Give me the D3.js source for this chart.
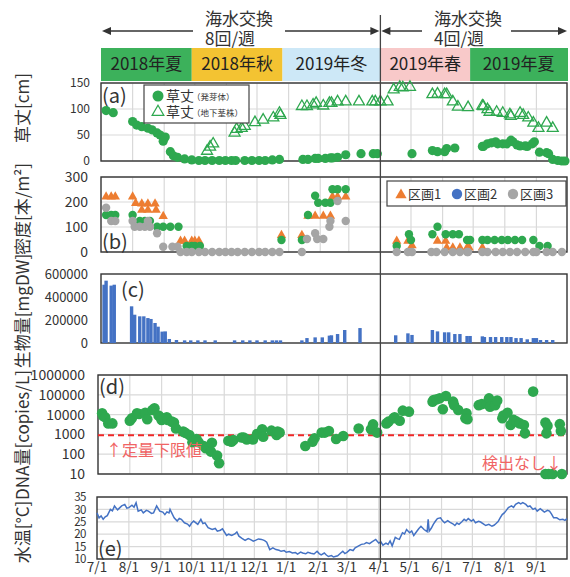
<!DOCTYPE html>
<html><head><meta charset="utf-8">
<script src="https://cdn.jsdelivr.net/npm/d3@7"></script>
<style>
body{margin:0;background:#fff}
text{font-family:"Noto Sans CJK JP","Noto Sans",sans-serif;fill:#333}
</style>
</head><body>
<svg id="c" width="570" height="577"></svg>
<script>
// ---------------- DATA ----------------
const startDate = "2018-07-01", endDate = "2019-10-01";
const seasonLabels = ["2018年夏","2018年秋","2019年冬","2019年春","2019年夏"];
const seasonBoundDays = [0, 89, 178, 274, 362, 457];
const exchangeLabels = [["海水交換","8回/週"],["海水交換","4回/週"]];
const exchangeSplitDay = 274;
const xTickLabels = ["7/1","8/1","9/1","10/1","11/1","12/1","1/1","2/1","3/1","4/1","5/1","6/1","7/1","8/1","9/1"];
const yTitles = ["草丈[cm]","密度[本/m²]","生物量[mgDW]","DNA量[copies/L]","水温[°C]"];

// (a) 草丈 [day offset, cm]
const shootHeight = [[5,97],[12,93],[31,76],[35,69],[40,66],[46,63],[50,60],[55,54],[58,50],[61,38],[63,46],[68,18],[71,10],[75,7],[82,4],[89,2],[96,1],[102,1],[109,1],[116,1],[122,1],[128,1],[132,1],[141,1],[148,1],[155,1],[161,1],[168,2],[175,3],
 [198,3],[203,3],[210,5],[213,5],[220,5],[225,6],[227,6],[232,7],[240,12],[255,14],[267,14],[271,14],[305,14],[325,20],[330,18],[337,18],[339,24],[347,25],[374,28],[375,28],[379,33],[383,35],[387,37],[389,33],[394,33],[398,33],[402,40],[404,37],[408,31],[411,29],[416,29],[418,28],[423,33],[425,37],[430,17],[437,16],[439,14],[443,3],[448,1],[452,0],[455,0]];
const rhizomeHeight = [[104,21],[107,29],[110,35],[131,56],[133,63],[138,65],[141,69],[151,76],[159,81],[169,85],[175,94],[176,90],
 [197,107],[202,107],[208,110],[211,113],[218,108],[224,113],[226,113],[232,116],[240,116],[253,116],[266,116],[269,116],[274,116],[281,116],[287,139],[293,144],[296,143],[303,144],[325,130],[330,131],[337,130],[339,130],[345,116],[350,106],[360,105],[374,108],[375,107],[379,101],[381,96],[388,96],[394,94],[401,91],[402,88],[411,94],[414,90],[419,85],[424,75],[429,65],[437,75],[443,65]];

// (b) 密度 [day, 本/m2]
const densityLegend = ["区画1","区画2","区画3"];
const density1 = [[5,225],[10,225],[14,225],[31,225],[34,199],[40,197],[46,197],[53,197],[40,172],[46,172],[54,172],[61,147],[78,48],[82,48],[89,48],[92,48],[96,48],[177,71],[197,71],[203,148],[210,148],[218,148],[225,148],[227,225],[232,225],[240,225],[290,48],[301,48],[305,30],[330,48],[338,48],[339,21],[345,21],[352,21],[359,21],[361,21],[374,21]];
const density2 = [[5,148],[10,148],[14,148],[31,148],[38,124],[43,124],[48,124],[55,101],[61,101],[68,101],[76,101],[84,24],[89,24],[92,24],[97,24],[177,48],[197,48],[203,148],[210,225],[213,197],[220,197],[225,197],[227,251],[232,251],[240,251],[290,24],[302,71],[304,48],[325,71],[330,101],[338,71],[345,71],[351,71],[359,48],[362,48],[374,48],[379,48],[386,48],[393,48],[399,48],[406,48],[413,48],[424,48],[430,24],[438,24]];
const density3 = [[5,177],[10,124],[14,124],[31,124],[33,101],[38,101],[43,101],[48,101],[46,124],[55,75],[61,21],[70,21],[75,21],[78,0],[84,0],[89,0],[96,0],[102,0],[109,0],[116,0],[122,0],[128,0],[134,0],[141,0],[148,0],[155,0],[161,0],[168,0],[175,0],[197,0],[202,52],[210,75],[212,52],[218,52],[224,101],[225,124],[232,204],[240,124],
 [290,0],[301,0],[305,0],[324,0],[329,0],[337,0],[345,0],[352,0],[359,0],[360,0],[374,0],[379,0],[387,0],[394,0],[401,0],[408,0],[416,0],[424,0],[427,0],[437,0],[443,0],[452,0]];

// (c) 生物量 [day, mgDW]
const biomass = [[3,507000],[5,542000],[10,499000],[13,507000],[30,319000],[33,246000],[38,232000],[42,232000],[46,217000],[49,209000],[53,174000],[56,142000],[60,99000],[63,101000],[67,35000],[74,26000],[82,23000],[88,23000],[95,23000],[102,23000],[112,23000],[131,23000],[139,23000],[146,23000],[153,23000],[161,23000],[168,23000],[172,23000],[176,23000],[197,23000],[202,43000],[210,49000],[217,49000],[224,64000],[226,67000],[232,78000],[239,113000],[254,130000],
 [289,67000],[301,84000],[305,70000],[325,113000],[330,101000],[337,93000],[341,93000],[347,78000],[352,78000],[359,61000],[362,61000],[374,58000],[376,52000],[382,52000],[387,52000],[393,52000],[398,52000],[402,52000],[407,43000],[412,43000],[418,32000],[424,43000],[427,43000],[431,26000],[437,26000],[443,26000]];

// (d) DNA量 [day, copies/L]  (10 = 検出なし)
const dnaTicks = [10,100,1000,10000,100000,1000000];
const dnaLimit = 900;
const dna = [[4,11700],[5,8500],[7,7300],[10,3600],[14,3600],[31,4900],[33,6500],[38,11700],[40,10700],[46,12500],[48,5800],[53,17000],[55,21000],[59,9000],[61,7300],[62,5400],[67,7300],[68,5400],[72,4400],[74,4000],[76,2000],[83,1400],[85,1200],[89,930],[92,400],[96,590],[98,400],[103,260],[105,200],[110,135],[111,380],[116,86],[118,35],[127,480],[130,430],[132,520],[140,700],[142,700],[145,560],[151,560],[155,1050],[160,1800],[161,760],[169,1550],[173,1230],[174,930],[175,1400],[177,1230],
 [202,260],[209,430],[211,630],[218,1230],[221,1230],[225,1480],[232,590],[239,830],[254,2000],[266,1800],[268,3200],[272,1230],[281,3600],[283,4400],[288,6500],[289,7300],[294,4900],[297,15800],[303,14100],[326,45000],[327,55000],[330,59000],[333,66000],[339,87000],[336,18600],[346,45000],[347,30000],[351,17000],[359,11700],[358,6500],[360,5800],[371,30000],[374,34000],[379,35000],[381,66000],[382,25000],[387,30000],[389,51000],[394,6500],[395,9000],[399,12500],[402,3000],[405,5400],[408,4400],[411,3600],[415,3000],[416,1130],[424,145000],[436,4000],[438,2700],[437,1130],[450,3300],[451,1500],
 [436,10],[439,10],[443,10],[452,10]];

// (e) 水温 [day, °C]
const waterTemp = [[0,28.6],[2,26.6],[4,27.4],[6,26],[8,27],[10,27.5],[13,30],[15,29.4],[17,31.4],[20,29.8],[22,30.6],[24,31.4],[27,32],[29,30.5],[31,30.7],[34,31.7],[36,30.9],[38,32.7],[40,29.3],[43,29.8],[45,28.6],[48,29.6],[50,29.3],[53,28.4],[55,28.6],[58,31.4],[61,29.3],[64,28.9],[66,27.9],[68,29],[70,28.6],[71,30],[75,26.6],[78,25.3],[80,26.4],[82,26],[85,24.6],[88,24.1],[90,23.2],[92,24.5],[94,25.3],[98,24],[101,26],[103,24.3],[105,24.6],[108,22.6],[112,21.9],[115,22.3],[117,21.2],[120,21.6],[122,22.2],[126,19.5],[128,20],[131,19.5],[134,20.1],[136,20.9],[138,19.2],[141,18.3],[144,17.5],[147,18.2],[149,17.9],[152,17.2],[154,17.5],[157,18.1],[160,17.9],[163,17.4],[165,16.8],[168,13.8],[171,14.5],[174,13.8],[177,13.5],[179,13.1],[182,13.4],[184,12.7],[187,13],[190,12.4],[193,12.6],[195,12],[198,12.8],[200,12.4],[203,12.1],[205,12.7],[208,12.3],[211,12],[214,13.1],[216,12.2],[218,11.7],[221,12.4],[223,11.6],[225,11],[228,11.4],[230,10.8],[234,11.3],[237,12.4],[239,13.1],[241,12.2],[243,12.7],[246,13.8],[249,13.4],[251,14.5],[254,15.2],[257,15.9],[260,16.1],[262,16.6],[265,16.2],[267,16.8],[271,17.9],[274,16.4],[276,16.9],[278,15.6],[281,16.4],[283,15.9],[285,17.3],[287,15.3],[290,18.7],[292,18.2],[294,17.9],[297,20.6],[299,20.1],[301,21.9],[304,20.6],[306,21.3],[308,19.5],[311,21.2],[313,22.3],[315,23.2],[318,21.9],[321,21],[322,26],[323,21.2],[325,22.4],[327,24],[329,25.2],[331,26.3],[334,26.6],[336,25.4],[338,24.6],[341,25.5],[343,24.9],[346,24.2],[348,23.5],[350,24.5],[352,24],[355,25.1],[357,26],[359,25.4],[361,26.3],[364,25.3],[366,25.9],[368,24.6],[371,25.2],[373,24.9],[376,24.1],[378,23.5],[381,24],[384,23.2],[386,23.6],[388,24.3],[390,25.1],[392,26.6],[394,27.9],[396,28.6],[398,29.6],[400,30.7],[403,31.4],[405,30.8],[407,32],[410,32.7],[412,32.2],[414,32.7],[417,32],[419,31.1],[421,31.4],[424,30],[426,30.5],[428,29.3],[431,30.3],[433,29.6],[435,28.9],[438,29.6],[440,29.3],[442,28.1],[444,26.6],[447,26.6],[450,25.8],[453,26],[455,25.6],[457,26.3]];

const yTicksA = [0,50,100,150], yTicksB = [0,100,200,300], yTicksC = [0,200000,400000,600000], yTicksE = [10,15,20,25,30,35];

// ---------------- STYLE / LAYOUT ----------------
const C = {green:"#2ea84f", orange:"#ed7d31", blue:"#4472c4", gray:"#a5a5a5", grid:"#d9d9d9", axis:"#333",
  seasons:["#3cb15b","#f3c332","#cde8f7","#f8c9c9","#3cb15b"]};
const RIGHT = 567;
const svg = d3.select("#c");
const t0 = d3.timeParse("%Y-%m-%d")(startDate), t1 = d3.timeParse("%Y-%m-%d")(endDate);
const D = d => d3.timeDay.offset(t0, d);
const months = d3.timeMonth.range(t0, t1);
const xScale = left => d3.scaleTime().domain([t0, t1]).range([left, RIGHT]);

function panel(o){
  const x = xScale(o.left);
  const g = svg.append("g");
  if (o.vgrid) g.selectAll(null).data(months.slice(1)).join("line")
      .attr("x1", d=>x(d)).attr("x2", d=>x(d)).attr("y1", o.top).attr("y2", o.bottom)
      .attr("stroke", C.grid).attr("stroke-width", 1.2);
  if (o.hgrid) g.selectAll(null).data(o.ticks).join("line")
      .attr("x1", o.left).attr("x2", RIGHT).attr("y1", d=>o.y(d)).attr("y2", d=>o.y(d))
      .attr("stroke", C.grid).attr("stroke-width", 1.2);
  g.selectAll(null).data(o.ticks).join("text")
      .attr("x", o.labelRight).attr("y", d=>o.y(d)).attr("dy", "0.36em")
      .attr("text-anchor","end").style("font-size", o.fs+"px")
      .style("letter-spacing", o.ls||0)
      .text(d=>d);
  g.append("rect").attr("x", o.left).attr("y", o.top).attr("width", RIGHT-o.left).attr("height", o.bottom-o.top)
      .attr("fill","none").attr("stroke", C.axis).attr("stroke-width", 1.4);
  g.append("text").attr("x", o.tagX).attr("y", o.tagY).style("font-size","20px").text(o.tag);
  return {x, g};
}

// ---- Top annotations ----
const xa = xScale(101);
seasonLabels.forEach((s,i)=>{
  const x0 = xa(D(seasonBoundDays[i])), x1 = xa(D(seasonBoundDays[i+1]));
  svg.append("rect").attr("x", x0).attr("y", 48).attr("width", x1-x0+ (i==4?1:0)).attr("height", 33).attr("fill", C.seasons[i]);
  svg.append("text").attr("x", (x0+x1)/2).attr("y", 70).attr("text-anchor","middle").style("font-size","17px").style("fill","#222").text(s);
});
function arrowHead(x, y, dir){
  svg.append("path").attr("d", `M${x},${y} L${x-dir*9},${y-4} L${x-dir*9},${y+4} Z`).attr("fill","#333");
}
const xSplit = xa(D(exchangeSplitDay));
const ay = 31;
[[xa(D(1)), 193, 285, xSplit-1, 205],[xSplit+1, 422, 511, RIGHT, 434]].forEach(([a,b,c,d,tx],i)=>{
  svg.append("line").attr("x1",a+6).attr("x2",b).attr("y1",ay).attr("y2",ay).attr("stroke","#333").attr("stroke-width",1.4);
  svg.append("line").attr("x1",c).attr("x2",d-6).attr("y1",ay).attr("y2",ay).attr("stroke","#333").attr("stroke-width",1.4);
  arrowHead(a, ay, -1); arrowHead(d, ay, 1);
  svg.append("text").attr("x",tx).attr("y",25).style("font-size","17px").text(exchangeLabels[i][0]);
  svg.append("text").attr("x",tx).attr("y",45).style("font-size","17px").text(exchangeLabels[i][1]);
});

// ---- (a) ----
const yA = d3.scaleLinear().domain([0,150]).range([161,83]);
const pA = panel({left:101, top:83, bottom:161, y:yA, ticks:yTicksA, vgrid:true, hgrid:true, labelRight:90, fs:12, tag:"(a)", tagX:102, tagY:103});
pA.g.selectAll(null).data(rhizomeHeight).join("path")
  .attr("d", d3.symbol(d3.symbolTriangle, 52)).attr("transform", d=>`translate(${pA.x(D(d[0]))},${yA(d[1])+1})`)
  .attr("fill","none").attr("stroke", C.green).attr("stroke-width",1.3);
pA.g.selectAll(null).data(shootHeight).join("circle")
  .attr("cx", d=>pA.x(D(d[0]))).attr("cy", d=>yA(d[1])).attr("r",4.6).attr("fill", C.green);
const lg = svg.append("g");
lg.append("rect").attr("x",144).attr("y",85).attr("width",105).attr("height",38).attr("fill","#fff").attr("stroke","#444").attr("stroke-width",1.2);
lg.append("circle").attr("cx",158).attr("cy",96).attr("r",5.5).attr("fill",C.green);
lg.append("path").attr("d", d3.symbol(d3.symbolTriangle, 60)).attr("transform","translate(158,112)").attr("fill","none").attr("stroke",C.green).attr("stroke-width",1.2);
lg.append("text").attr("x",166).attr("y",101).style("font-size","14px").text("草丈");
lg.append("text").attr("x",192).attr("y",100).style("font-size","8.5px").text("（発芽体）");
lg.append("text").attr("x",166).attr("y",117).style("font-size","14px").text("草丈");
lg.append("text").attr("x",192).attr("y",116).style("font-size","8.5px").text("（地下茎株）");

// ---- (b) ----
const yB = d3.scaleLinear().domain([0,300]).range([252,177]);
const pB = panel({left:101, top:177, bottom:252, y:yB, ticks:yTicksB, vgrid:true, hgrid:true, labelRight:88, fs:14, tag:"(b)", tagX:102, tagY:249});
pB.g.selectAll(null).data(density1).join("path")
  .attr("d", d3.symbol(d3.symbolTriangle, 38)).attr("transform", d=>`translate(${pB.x(D(d[0]))},${yB(d[1])+1})`).attr("fill", C.orange);
pB.g.selectAll(null).data(density2).join("circle")
  .attr("cx", d=>pB.x(D(d[0]))).attr("cy", d=>yB(d[1])).attr("r",4.2).attr("fill", C.green);
pB.g.selectAll(null).data(density3).join("circle")
  .attr("cx", d=>pB.x(D(d[0]))).attr("cy", d=>yB(d[1])).attr("r",4.2).attr("fill", C.gray);
const lb = svg.append("g");
lb.append("rect").attr("x",387).attr("y",181).attr("width",179).attr("height",25).attr("fill","#fff").attr("stroke","#444").attr("stroke-width",1.2);
lb.append("path").attr("d", d3.symbol(d3.symbolTriangle, 55)).attr("transform","translate(401,195)").attr("fill",C.orange);
lb.append("circle").attr("cx",457).attr("cy",194).attr("r",5.2).attr("fill",C.blue);
lb.append("circle").attr("cx",513).attr("cy",194).attr("r",5.2).attr("fill",C.gray);
[[408,0],[464,1],[520,2]].forEach(([x,i])=>lb.append("text").attr("x",x).attr("y",199).style("font-size","13px").text(densityLegend[i]));

// ---- (c) ----
const yC = d3.scaleLinear().domain([0,600000]).range([343,274]);
const pC = panel({left:101, top:274, bottom:343, y:yC, ticks:yTicksC, vgrid:false, hgrid:false, labelRight:88, fs:13, tag:"(c)", tagX:121, tagY:297});
pC.g.selectAll(null).data(biomass).join("rect")
  .attr("x", d=>pC.x(D(d[0]))-1.7).attr("width", 3.4)
  .attr("y", d=>yC(d[1])).attr("height", d=>yC(0)-yC(d[1])).attr("fill", C.blue);

// ---- (d) ----
const yD = d3.scaleLog().domain([10,1000000]).range([474,375]);
const pD = panel({left:98, top:375, bottom:474, y:yD, ticks:dnaTicks, vgrid:true, hgrid:true, labelRight:85, fs:14, tag:"(d)", tagX:99, tagY:394});
pD.g.append("line").attr("x1",98).attr("x2",RIGHT).attr("y1",yD(dnaLimit)).attr("y2",yD(dnaLimit))
  .attr("stroke","#f02828").attr("stroke-width",2).attr("stroke-dasharray","6,4");
pD.g.selectAll(null).data(dna).join("circle")
  .attr("cx", d=>pD.x(D(d[0]))).attr("cy", d=>yD(d[1])).attr("r",5.3).attr("fill", C.green);
pD.g.append("text").attr("x",106).attr("y",456).style("font-size","16px").style("fill","#f06464").text("↑定量下限値");
pD.g.append("text").attr("x",482).attr("y",469).style("font-size","16px").style("fill","#f06464").text("検出なし↓");

// ---- (e) ----
const yE = d3.scaleLinear().domain([10,35]).range([559,497]);
const pE = panel({left:97, top:497, bottom:559, y:yE, ticks:yTicksE, vgrid:true, hgrid:true, labelRight:86, fs:11.5, ls:"-0.5px", tag:"(e)", tagX:98, tagY:556});
pE.g.append("path").datum(waterTemp)
  .attr("d", d3.line().x(d=>pE.x(D(d[0]))).y(d=>yE(d[1])))
  .attr("fill","none").attr("stroke", C.blue).attr("stroke-width",1.5);
pE.g.selectAll(null).data(months).join("text")
  .attr("x", d=>pE.x(d)).attr("y", 572).attr("text-anchor","middle").style("font-size","13.5px")
  .text((d,i)=>xTickLabels[i]);

// ---- y titles ----
[108,209,311,435,532].forEach((cy,i)=>{
  svg.append("text").attr("transform", `translate(29,${cy}) rotate(-90)`)
    .attr("text-anchor","middle").style("font-size","17px").text(yTitles[i]);
});

// ---- 4/1 divider ----
svg.append("line").attr("x1", xSplit).attr("x2", xSplit).attr("y1", 15).attr("y2", 563)
  .attr("stroke","#444").attr("stroke-width",1.3);
</script>
</body></html>
